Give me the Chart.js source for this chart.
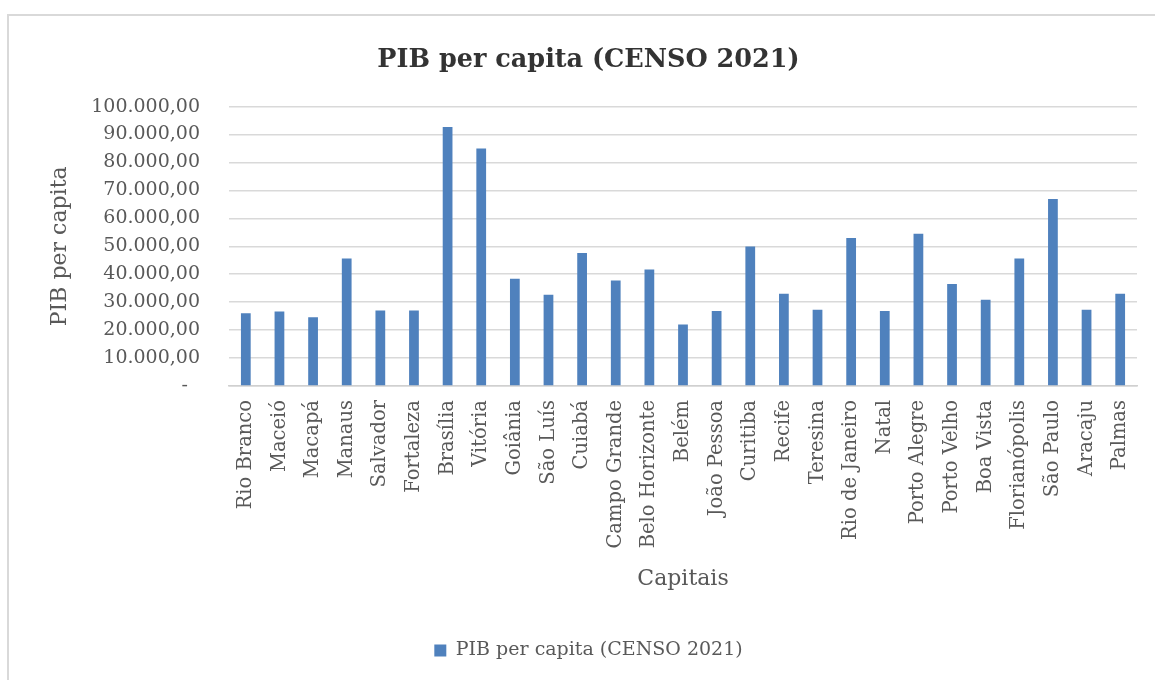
<!DOCTYPE html>
<html>
<head>
<meta charset="utf-8">
<script src="https://cdn.jsdelivr.net/npm/chart.js@4"></script>
<style>
  html, body { margin: 0; padding: 0; background: #fff; overflow: hidden; }
  #frame {
    position: absolute; left: 7px; top: 14px; width: 1200px; height: 720px;
    border: 2px solid #d9d9d9; box-sizing: border-box;
  }
  #wrap { position: absolute; left: 0; top: 0; width: 1155px; height: 680px; }
</style>
</head>
<body>
<div id="frame"></div>
<div id="wrap"><canvas id="pibChart" width="1155" height="680"></canvas></div>
<script>
// capitais e PIB per capita (CENSO 2021)
const capitais = ['Rio Branco', 'Maceió', 'Macapá', 'Manaus', 'Salvador', 'Fortaleza', 'Brasília',
    'Vitória', 'Goiânia', 'São Luís', 'Cuiabá', 'Campo Grande', 'Belo Horizonte', 'Belém',
    'João Pessoa', 'Curitiba', 'Recife', 'Teresina', 'Rio de Janeiro', 'Natal', 'Porto Alegre',
    'Porto Velho', 'Boa Vista', 'Florianópolis', 'São Paulo', 'Aracaju', 'Palmas'];
const pibPerCapita = [26000, 26700, 24600, 45600, 27000, 27000, 92700,
    85000, 38400, 32700, 47600, 37800, 41700, 22000,
    26800, 49900, 33000, 27300, 53000, 26800, 54500,
    36500, 30900, 45600, 66900, 27300, 33000];
const serieNome = 'PIB per capita (CENSO 2021)';
const yMax = 100000;
const yStep = 10000;

const cinza = '#595959';
const fonte = 'DejaVu Serif';

function formatBR(v) {
    if (v === 0) return '-  ';
    let s = Math.round(v).toString().replace(/\B(?=(\d{3})+(?!\d))/g, '.');
    return s + ',00';
}

new Chart('pibChart', {
    type: 'bar',
    data: {
        labels: capitais,
        datasets: [{
            label: serieNome,
            data: pibPerCapita,
            backgroundColor: '#4f81bd',
            borderWidth: 0,
            barPercentage: 0.29,
            categoryPercentage: 1.0
        }]
    },
    options: {
        responsive: false,
        animation: false,
        layout: { padding: { left: 40, right: 18, top: 23, bottom: 10 } },
        plugins: {
            title: {
                display: true,
                text: serieNome,
                color: '#333',
                font: { family: fonte, size: 25.5, weight: 'bold' },
                padding: { top: 22, bottom: 31 }
            },
            legend: {
                position: 'bottom',
                labels: {
                    color: cinza,
                    font: { family: fonte, size: 19 },
                    boxWidth: 12,
                    boxHeight: 12,
                    padding: 10
                }
            },
            tooltip: { enabled: false }
        },
        scales: {
            x: {
                grid: { display: false, drawTicks: false },
                border: { color: '#d0d0d0', width: 1.5 },
                ticks: {
                    color: cinza,
                    font: { family: fonte, size: 19.5 },
                    minRotation: 90,
                    maxRotation: 90,
                    autoSkip: false,
                    padding: 14
                },
                title: {
                    display: true,
                    text: 'Capitais',
                    color: cinza,
                    font: { family: fonte, size: 22 },
                    padding: { top: 4, bottom: 39 }
                },
                afterFit: (scale) => {
                    scale.height = 245;
                    scale.paddingLeft = 0;
                    scale.paddingRight = 0;
                }
            },
            y: {
                min: 0,
                max: yMax,
                grid: { color: '#d9d9d9', lineWidth: 1.5, drawTicks: false },
                border: { display: false },
                ticks: {
                    stepSize: yStep,
                    color: cinza,
                    font: { family: fonte, size: 19 },
                    padding: 29,
                    callback: (v) => formatBR(v)
                },
                title: {
                    display: true,
                    text: 'PIB per capita',
                    color: cinza,
                    font: { family: fonte, size: 22 },
                    padding: { top: 7, bottom: 0 }
                },
                afterFit: (scale) => { scale.width = 189; }
            }
        }
    }
});
</script>
</body>
</html>
